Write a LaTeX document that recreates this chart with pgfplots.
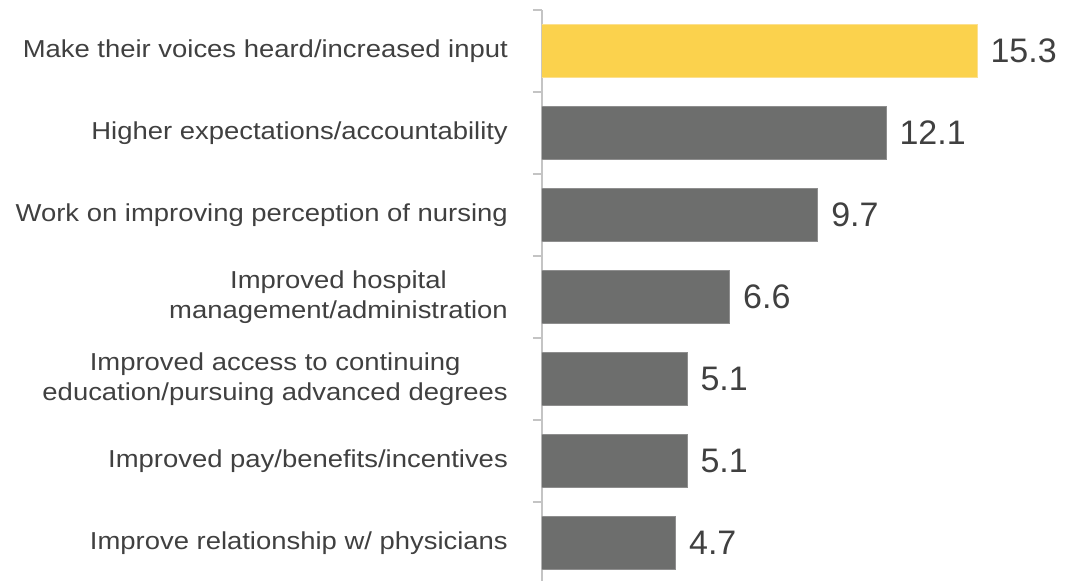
\documentclass[border=0pt]{standalone}
\usepackage{fontspec}
\setmainfont{Liberation Sans}
\newfontfamily\labelfont[FakeStretch=1.12]{Liberation Sans}
\usepackage{pgfplots}
\pgfplotsset{compat=1.18}
\definecolor{barY}{HTML}{FBD24D}
\definecolor{barYE}{HTML}{FCE08F}
\definecolor{barG}{HTML}{6D6E6D}
\definecolor{barGE}{HTML}{8E8E8E}
\definecolor{txt}{HTML}{404040}
\definecolor{axl}{HTML}{C4C4C4}
\begin{document}
\begin{tikzpicture}
\begin{axis}[name=ax, scale only axis, width=532pt, height=574pt,
  xmin=0, xmax=18.71, ymin=-0.5, ymax=6.5, y dir=reverse,
  axis x line=none, axis y line*=left,
  axis line style={draw=axl, line width=1.5pt},
  xbar, bar width=0.646, bar shift=0pt,
  ytick={0,...,6},
  yticklabels={Make their voices heard/increased input,
    Higher expectations/accountability,
    Work on improving perception of nursing,
    {Improved hospital\\management/administration},
    {Improved access to continuing\\education/pursuing advanced degrees},
    Improved pay/benefits/incentives,
    Improve relationship w/ physicians},
  major tick length=0pt,
  minor ytick={-0.5,0.5,...,6.5}, minor tick length=9pt, tick align=outside,
  minor tick style={draw=axl, line width=1.5pt},
  yticklabel style={align=center, font=\labelfont\fontsize{24.5}{30}\selectfont, text=txt, inner sep=0pt, xshift=-34pt},
  /pgf/number format/assume math mode=true,
  /pgf/number format/.cd, fixed, precision=1, zerofill, /pgfplots/.cd,
  point meta=x,
  nodes near coords,
  nodes near coords style={anchor=west, inner sep=0pt, xshift=13pt, font=\fontsize{34}{34}\selectfont, text=txt},
]
\addplot[fill=barY, draw=barYE, line width=1pt] coordinates {(15.3,0)};
\addplot[fill=barG, draw=barGE, line width=1pt] coordinates {(12.1,1) (9.7,2) (6.6,3) (5.1,4) (5.1,5) (4.7,6)};
\end{axis}
\pgfresetboundingbox
\path[use as bounding box] ([xshift=-542pt,yshift=10pt]ax.north west) rectangle ([yshift=4pt]ax.south east);
\end{tikzpicture}
\end{document}
